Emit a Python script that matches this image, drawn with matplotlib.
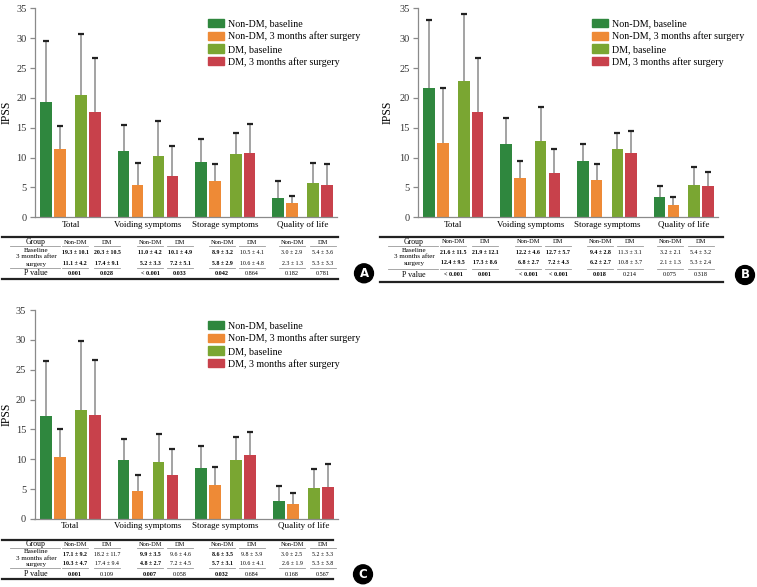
import numpy as np
import matplotlib
matplotlib.use("Agg")
import matplotlib.pyplot as plt
from matplotlib.patches import Patch

plt.rcParams['font.family'] = ['Liberation Serif', 'DejaVu Serif']

W, H = 757, 587

categories = ["Total", "Voiding symptoms", "Storage symptoms", "Quality of life"]
series = ["Non-DM, baseline", "Non-DM, 3 months after surgery",
          "DM, baseline", "DM, 3 months after surgery"]
colors = ["#2f873e", "#ee8a36", "#7aa632", "#c8414b"]

# bar heights and upper error (SD), per series
a_mean = [[19.3, 11.1, 9.3, 3.2], [11.4, 5.4, 6.0, 2.35],
          [20.4, 10.2, 10.6, 5.7], [17.6, 7.0, 10.8, 5.4]]
a_sd = [[10.2, 4.4, 3.8, 2.8], [3.95, 3.75, 3.0, 1.25],
        [10.25, 6.0, 3.6, 3.45], [9.0, 4.9, 4.8, 3.5]]

b_mean = [[21.6, 12.2, 9.4, 3.35], [12.4, 6.6, 6.25, 2.1],
          [22.8, 12.7, 11.4, 5.4], [17.6, 7.4, 10.7, 5.25]]
b_sd = [[11.5, 4.5, 2.9, 1.95], [9.3, 2.8, 2.65, 1.35],
        [11.3, 5.7, 2.8, 3.1], [9.1, 4.0, 3.8, 2.35]]

c_mean = [[17.3, 9.9, 8.6, 3.0], [10.4, 4.75, 5.7, 2.55],
          [18.3, 9.6, 9.8, 5.25], [17.4, 7.4, 10.7, 5.35]]
c_sd = [[9.1, 3.5, 3.6, 2.5], [4.6, 2.6, 3.0, 1.85],
        [11.5, 4.6, 3.9, 3.15], [9.2, 4.35, 3.9, 3.9]]

# table text; bold flags mark the significant columns
col_heads = ["Non-DM", "DM"] * 4
a_base = ["19.3 \u00b1 10.1", "20.3 \u00b1 10.5", "11.0 \u00b1 4.2", "10.1 \u00b1 4.9",
          "8.9 \u00b1 3.2", "10.5 \u00b1 4.1", "3.0 \u00b1 2.9", "5.4 \u00b1 3.6"]
a_after = ["11.1 \u00b1 4.2", "17.4 \u00b1 9.1", "5.2 \u00b1 3.3", "7.2 \u00b1 5.1",
           "5.8 \u00b1 2.9", "10.6 \u00b1 4.8", "2.3 \u00b1 1.3", "5.3 \u00b1 3.3"]
a_p = ["0.001", "0.028", "< 0.001", "0.033", "0.042", "0.864", "0.182", "0.781"]
a_bold = [1, 1, 1, 1, 1, 0, 0, 0]

b_base = ["21.6 \u00b1 11.5", "21.9 \u00b1 12.1", "12.2 \u00b1 4.6", "12.7 \u00b1 5.7",
          "9.4 \u00b1 2.8", "11.3 \u00b1 3.1", "3.2 \u00b1 2.1", "5.4 \u00b1 3.2"]
b_after = ["12.4 \u00b1 9.5", "17.3 \u00b1 8.6", "6.8 \u00b1 2.7", "7.2 \u00b1 4.3",
           "6.2 \u00b1 2.7", "10.8 \u00b1 3.7", "2.1 \u00b1 1.3", "5.3 \u00b1 2.4"]
b_p = ["< 0.001", "0.001", "< 0.001", "< 0.001", "0.018", "0.214", "0.075", "0.318"]
b_bold = [1, 1, 1, 1, 1, 0, 0, 0]

c_base = ["17.1 \u00b1 9.2", "18.2 \u00b1 11.7", "9.9 \u00b1 3.5", "9.6 \u00b1 4.6",
          "8.6 \u00b1 3.5", "9.8 \u00b1 3.9", "3.0 \u00b1 2.5", "5.2 \u00b1 3.3"]
c_after = ["10.3 \u00b1 4.7", "17.4 \u00b1 9.4", "4.8 \u00b1 2.7", "7.2 \u00b1 4.5",
           "5.7 \u00b1 3.1", "10.6 \u00b1 4.1", "2.6 \u00b1 1.9", "5.3 \u00b1 3.8"]
c_p = ["0.001", "0.109", "0.007", "0.058", "0.032", "0.684", "0.168", "0.567"]
c_bold = [1, 0, 1, 0, 1, 0, 0, 0]

offsets = [-0.315, -0.135, 0.135, 0.315]
bar_w = 0.15
axis_gray = "#8a8a8a"

fig = plt.figure(figsize=(W / 100, H / 100), dpi=100)


def px_axes(left, top, right, bottom):
    return fig.add_axes([left / W, 1 - bottom / H, (right - left) / W, (bottom - top) / H])


def bar_panel(left, top, right, bottom, means, sds, ylab_x, leg_x, leg_y):
    ax = px_axes(left, top, right, bottom)
    x = np.arange(len(categories))
    for i in range(4):
        m = np.array(means[i])
        s = np.array(sds[i])
        xs = x + offsets[i]
        ax.bar(xs, m, bar_w, color=colors[i], label=series[i], zorder=2)
        ax.vlines(xs, m, m + s, color=axis_gray, lw=1.1, zorder=1)
        ax.plot(xs, m + s, ls='none', marker='_', ms=5, mew=1.6, color='#222222', zorder=3)
    ax.set_xlim(-0.461, 3.445)
    ax.set_ylim(0, 35)
    ax.set_yticks(np.arange(0, 36, 5))
    ax.set_xticks(x)
    ax.set_xticklabels(categories, fontsize=6.5)
    ax.tick_params(axis='x', length=0, pad=2.5)
    ax.tick_params(axis='y', length=3.5, width=0.9, color=axis_gray, labelsize=7.5, pad=2.5,
                   labelcolor='#333333')
    for sp in ['top', 'right']:
        ax.spines[sp].set_visible(False)
    for sp in ['left', 'bottom']:
        ax.spines[sp].set_color(axis_gray)
        ax.spines[sp].set_linewidth(0.9)
    ax.set_ylabel("IPSS", fontsize=8.5)
    # label anchor is the right edge of the rotated text
    ax.yaxis.set_label_coords(-(left - ylab_x) / (right - left), 0.5)
    handles = [Patch(color=c) for c in colors]
    ax.legend(handles, series, loc='upper left', bbox_to_anchor=(leg_x / W, 1 - leg_y / H),
              bbox_transform=fig.transFigure, frameon=False, fontsize=7.2,
              handlelength=1.6, handleheight=0.9, labelspacing=0.3,
              handletextpad=0.45, borderpad=0, borderaxespad=0)
    return ax


bar_panel(35, 8.3, 337, 217.3, a_mean, a_sd, 13, 207.5, 19)
bar_panel(418, 8.3, 718, 217.3, b_mean, b_sd, 394, 592, 19)
bar_panel(34.5, 310, 338, 519, c_mean, c_sd, 13, 207.5, 321)

# overlay in pixel coordinates for the tables and panel badges
ov = fig.add_axes([0, 0, 1, 1])
ov.set_xlim(0, W)
ov.set_ylim(H, 0)
ov.axis('off')

rel_cols = [73, 105, 148, 178, 220, 250, 290, 321]


def table(x0, x1, y, base, after, pvals, bold, letter, bx):
    # y: top line, header, baseline, after, separator, p row, bottom line
    yt, yh, yb, ya, ysep, yp, ybot = y
    ov.plot([x0, x1], [yt, yt], color='#222222', lw=1.6)
    ov.plot([x0, x1], [ybot, ybot], color='#222222', lw=1.6)
    gx = x0 + 34
    ov.text(gx, yh, "Group", ha='center', va='center', fontsize=5.6)
    ov.text(gx, yb - 2.3, "Baseline", ha='center', va='center', fontsize=5.1)
    ov.text(gx, yb + 4.2, "3 months after", ha='center', va='center', fontsize=5.1)
    ov.text(gx, ya + 0.9, "surgery", ha='center', va='center', fontsize=5.1)
    ov.text(gx, yp, "P value", ha='center', va='center', fontsize=5.8)
    ul = yh + 3.8
    ov.plot([x0 + 8, x0 + 58], [ul, ul], color='#999999', lw=0.6)
    ov.plot([x0 + 8, x0 + 58], [ysep, ysep], color='#999999', lw=0.6)
    for j, rc in enumerate(rel_cols):
        cx = x0 + rc
        ov.text(cx, yh, col_heads[j], ha='center', va='center', fontsize=4.6)
        fw = 'bold' if bold[j] else 'normal'
        ov.text(cx, yb, base[j], ha='center', va='center', fontsize=4.2, fontweight=fw)
        ov.text(cx, ya, after[j], ha='center', va='center', fontsize=4.2, fontweight=fw)
        ov.text(cx, yp, pvals[j], ha='center', va='center', fontsize=4.4, fontweight=fw)
        ov.plot([cx - 13, cx + 13], [ul, ul], color='#999999', lw=0.6)
        ov.plot([cx - 13, cx + 13], [ysep, ysep], color='#999999', lw=0.6)
    ov.text(bx, yp, letter, ha='center', va='center', fontsize=8.5, fontweight='bold',
            color='white', family='DejaVu Sans',
            bbox=dict(boxstyle='circle,pad=0.25', fc='black', ec='black'))


table(2, 338, (236.7, 242.3, 252.3, 263.3, 268.3, 273.3, 279.3),
      a_base, a_after, a_p, a_bold, "A", 364)
table(380, 723, (236.7, 241.7, 252.3, 262.7, 269.0, 275.0, 281.7),
      b_base, b_after, b_p, b_bold, "B", 745)
table(2, 333, (539.7, 544.5, 554.0, 563.3, 568.3, 574.3, 579.3),
      c_base, c_after, c_p, c_bold, "C", 363)

fig.savefig("out.png", dpi=100)
